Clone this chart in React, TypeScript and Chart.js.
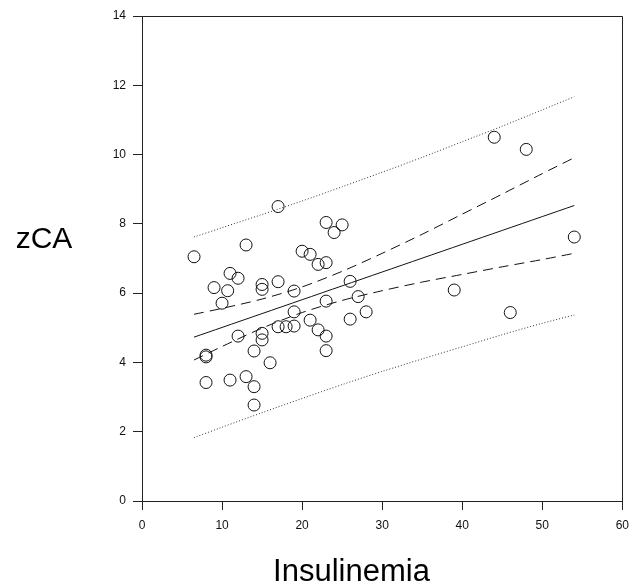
import React, { useEffect, useRef } from "react";
import { Chart, registerables } from "chart.js";

Chart.register(...registerables);

// Observed points (Insulinemia, zCA)
const pointX = [
  6.5, 17, 23, 25, 24, 13, 20, 21, 22, 23,
  11, 12, 15, 15, 17, 9, 10.7, 19, 26, 10,
  23, 27, 19, 28, 26, 21, 17, 18, 19, 22,
  23, 12, 15, 15, 14, 23, 8, 8, 16, 8,
  11, 13, 14, 14, 44, 48, 54, 39, 46,
];
const pointY = [
  7.05, 8.5, 8.04, 7.97, 7.75, 7.39, 7.21, 7.12, 6.83, 6.88,
  6.57, 6.43, 6.25, 6.11, 6.33, 6.16, 6.07, 6.06, 6.34, 5.71,
  5.77, 5.9, 5.46, 5.46, 5.25, 5.22, 5.03, 5.03, 5.05, 4.94,
  4.76, 4.76, 4.84, 4.65, 4.33, 4.34, 4.21, 4.16, 3.99, 3.42,
  3.49, 3.59, 3.3, 2.77, 10.5, 10.15, 7.62, 6.09, 5.44,
];

// Regression line and bands
const bandX = [6.5, 10, 15, 20, 25, 30, 35, 40, 45, 50, 54];
const fitY = [4.73, 5.01, 5.41, 5.81, 6.21, 6.61, 7.01, 7.41, 7.81, 8.21, 8.53];
const ciUpper = [5.39, 5.56, 5.83, 6.18, 6.63, 7.15, 7.7, 8.28, 8.86, 9.45, 9.91];
const ciLower = [4.07, 4.46, 4.99, 5.44, 5.79, 6.07, 6.32, 6.54, 6.76, 6.97, 7.15];
const piUpper = [7.62, 7.89, 8.27, 8.66, 9.07, 9.49, 9.92, 10.37, 10.82, 11.29, 11.67];
const piLower = [1.83, 2.13, 2.55, 2.96, 3.36, 3.74, 4.1, 4.45, 4.8, 5.13, 5.37];

const xTicks = [0, 10, 20, 30, 40, 50, 60];
const yTicks = [0, 2, 4, 6, 8, 10, 12, 14];

const xTitle = "Insulinemia";
const yTitle = "zCA";

const FONT = "'Liberation Sans', Arial, Helvetica, sans-serif";

function series(xs: number[], ys: number[]) {
  return xs.map((x, i) => ({ x, y: ys[i] }));
}

export default function App() {
  const ref = useRef<HTMLCanvasElement | null>(null);

  useEffect(() => {
    if (!ref.current) return;

    const frame = {
      id: "frame",
      afterDraw(chart: any) {
        const { ctx, chartArea } = chart;
        const { left, right, top, bottom } = chartArea;
        ctx.save();
        ctx.strokeStyle = "#222";
        ctx.lineWidth = 1;
        ctx.beginPath();
        ctx.moveTo(Math.round(left), Math.round(top) + 0.5);
        ctx.lineTo(Math.round(right) + 0.5, Math.round(top) + 0.5);
        ctx.lineTo(Math.round(right) + 0.5, Math.round(bottom));
        ctx.stroke();
        ctx.restore();
      },
    };

    const titles = {
      id: "titles",
      afterDraw(chart: any) {
        const { ctx } = chart;
        ctx.save();
        ctx.fillStyle = "#000";
        ctx.textBaseline = "alphabetic";
        ctx.textAlign = "center";
        ctx.font = `30px ${FONT}`;
        ctx.fillText(yTitle, 44, 248);
        ctx.font = `31px ${FONT}`;
        ctx.fillText(xTitle, 351.5, 581);
        ctx.restore();
      },
    };

    const lineDs = (ys: number[], dash: number[], color: string) => ({
      type: "line" as const,
      data: series(bandX, ys),
      borderColor: color,
      borderWidth: 1,
      borderDash: dash,
      pointRadius: 0,
      fill: false,
      tension: 0.3,
      showLine: true,
    });

    const chart = new Chart(ref.current, {
      type: "scatter",
      data: {
        datasets: [
          {
            type: "scatter",
            data: series(pointX, pointY),
            pointRadius: 6,
            pointStyle: "circle",
            borderColor: "#111",
            backgroundColor: "rgba(0,0,0,0)",
            borderWidth: 1,
          },
          lineDs(fitY, [], "#111"),
          lineDs(ciUpper, [10, 6], "#111"),
          lineDs(ciLower, [10, 6], "#111"),
          lineDs(piUpper, [1, 2], "#333"),
          lineDs(piLower, [1, 2], "#333"),
        ] as any,
      },
      options: {
        responsive: false,
        animation: false,
        devicePixelRatio: 1,
        layout: { padding: { top: 16, right: 7, left: 0, bottom: 0 } },
        plugins: {
          legend: { display: false },
          tooltip: { enabled: false },
        },
        scales: {
          x: {
            type: "linear",
            min: 0,
            max: 60,
            afterBuildTicks: (scale: any) => {
              scale.ticks = xTicks.map((v) => ({ value: v }));
            },
            afterFit: (scale: any) => {
              scale.height = 84;
            },
            ticks: {
              color: "#111",
              font: { family: FONT, size: 12 },
              padding: 8,
              maxRotation: 0,
            },
            grid: {
              display: true,
              drawOnChartArea: false,
              drawTicks: true,
              tickLength: 9,
              color: "#222",
            },
            border: { display: true, color: "#222" },
          },
          y: {
            type: "linear",
            min: 0,
            max: 14,
            afterBuildTicks: (scale: any) => {
              scale.ticks = yTicks.map((v) => ({ value: v }));
            },
            afterFit: (scale: any) => {
              scale.width = 142;
            },
            ticks: {
              color: "#111",
              font: { family: FONT, size: 12 },
              padding: 7,
            },
            grid: {
              display: true,
              drawOnChartArea: false,
              drawTicks: true,
              tickLength: 9,
              color: "#222",
            },
            border: { display: true, color: "#222" },
          },
        },
      },
      plugins: [frame, titles],
    });

    return () => chart.destroy();
  }, []);

  return (
    <div style={{ position: "absolute", left: 0, top: 0, width: 637, height: 585, background: "#fff" }}>
      <canvas ref={ref} width={637} height={585} style={{ display: "block" }} />
    </div>
  );
}
